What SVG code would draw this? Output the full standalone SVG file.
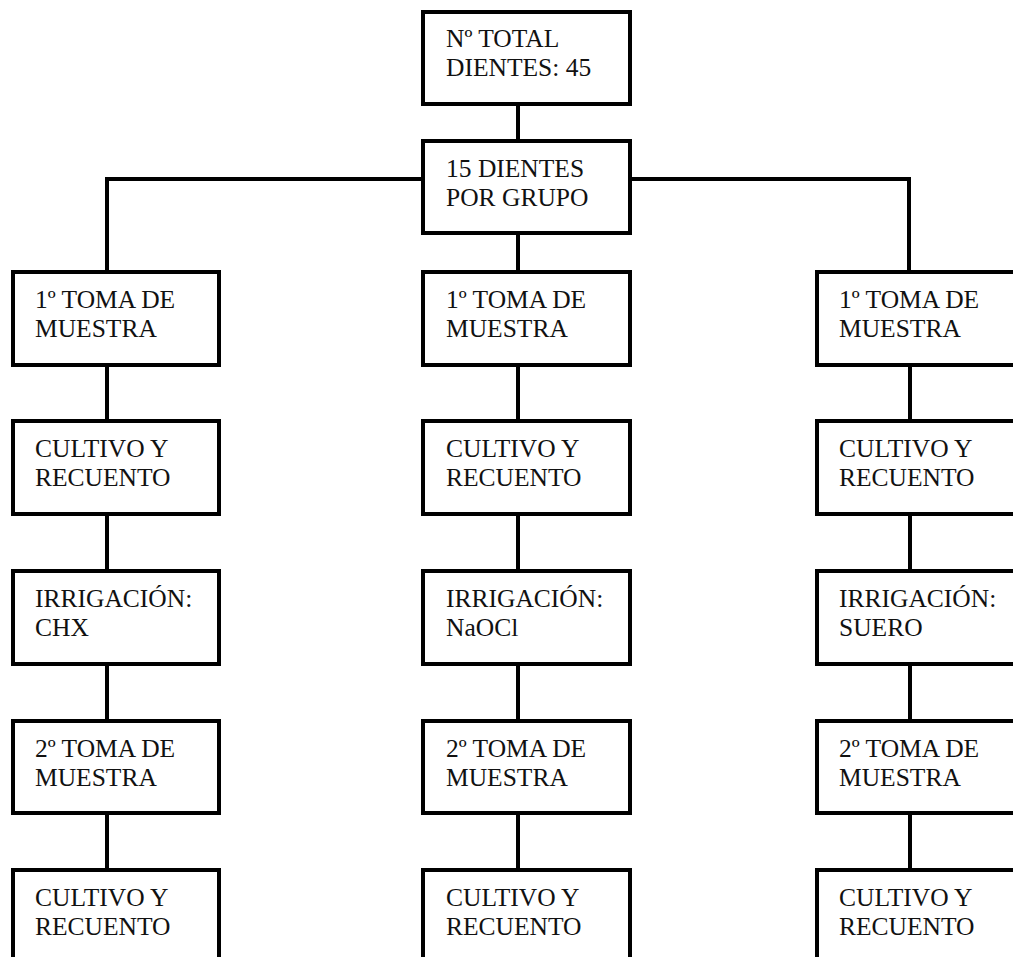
<svg xmlns="http://www.w3.org/2000/svg" width="1013" height="957" viewBox="0 0 1013 957">
<style>
.box{fill:#fff;stroke:#000;stroke-width:4}
.ln{fill:none;stroke:#000;stroke-width:4}
.t{font-family:'Liberation Serif','Times New Roman',Times,'DejaVu Serif',serif;font-size:25.5px;fill:#111}
</style>
<rect width="1013" height="957" fill="#fff"/>
<g id="connectors">
<path class="ln" d="M518 104V141"/>
<path class="ln" d="M107 272V179H909V272"/>
<path class="ln" d="M518 233V272"/>
<path class="ln" d="M107 365V421M107 514V571M107 664V721M107 813V870"/>
<path class="ln" d="M518 365V421M518 514V571M518 664V721M518 813V870"/>
<path class="ln" d="M910 365V421M910 514V571M910 664V721M910 813V870"/>
</g>
<g class="t" font-family="Liberation Serif, serif">
<g id="n-total"><rect class="box" x="423" y="12" width="207" height="92"/><text x="446" y="47">Nº TOTAL</text><text x="446" y="76">DIENTES: 45</text></g>
<g id="n-grupo"><rect class="box" x="423" y="141" width="207" height="92"/><text x="446" y="177">15 DIENTES</text><text x="446" y="206">POR GRUPO</text></g>

<g id="l1"><rect class="box" x="13" y="272" width="206" height="93"/><text x="35" y="308">1º TOMA DE</text><text x="35" y="337">MUESTRA</text></g>
<g id="l2"><rect class="box" x="13" y="421" width="206" height="93"/><text x="35" y="457">CULTIVO Y</text><text x="35" y="486">RECUENTO</text></g>
<g id="l3"><rect class="box" x="13" y="571" width="206" height="93"/><text x="35" y="607">IRRIGACIÓN:</text><text x="35" y="636">CHX</text></g>
<g id="l4"><rect class="box" x="13" y="721" width="206" height="92"/><text x="35" y="757">2º TOMA DE</text><text x="35" y="786">MUESTRA</text></g>
<g id="l5"><rect class="box" x="13" y="870" width="206" height="93"/><text x="35" y="906">CULTIVO Y</text><text x="35" y="935">RECUENTO</text></g>

<g id="m1"><rect class="box" x="423" y="272" width="207" height="93"/><text x="446" y="308">1º TOMA DE</text><text x="446" y="337">MUESTRA</text></g>
<g id="m2"><rect class="box" x="423" y="421" width="207" height="93"/><text x="446" y="457">CULTIVO Y</text><text x="446" y="486">RECUENTO</text></g>
<g id="m3"><rect class="box" x="423" y="571" width="207" height="93"/><text x="446" y="607">IRRIGACIÓN:</text><text x="446" y="636">NaOCl</text></g>
<g id="m4"><rect class="box" x="423" y="721" width="207" height="92"/><text x="446" y="757">2º TOMA DE</text><text x="446" y="786">MUESTRA</text></g>
<g id="m5"><rect class="box" x="423" y="870" width="207" height="93"/><text x="446" y="906">CULTIVO Y</text><text x="446" y="935">RECUENTO</text></g>

<g id="r1"><rect class="box" x="817" y="272" width="206" height="93"/><text x="839" y="308">1º TOMA DE</text><text x="839" y="337">MUESTRA</text></g>
<g id="r2"><rect class="box" x="817" y="421" width="206" height="93"/><text x="839" y="457">CULTIVO Y</text><text x="839" y="486">RECUENTO</text></g>
<g id="r3"><rect class="box" x="817" y="571" width="206" height="93"/><text x="839" y="607">IRRIGACIÓN:</text><text x="839" y="636">SUERO</text></g>
<g id="r4"><rect class="box" x="817" y="721" width="206" height="92"/><text x="839" y="757">2º TOMA DE</text><text x="839" y="786">MUESTRA</text></g>
<g id="r5"><rect class="box" x="817" y="870" width="206" height="93"/><text x="839" y="906">CULTIVO Y</text><text x="839" y="935">RECUENTO</text></g>
</g>
</svg>
